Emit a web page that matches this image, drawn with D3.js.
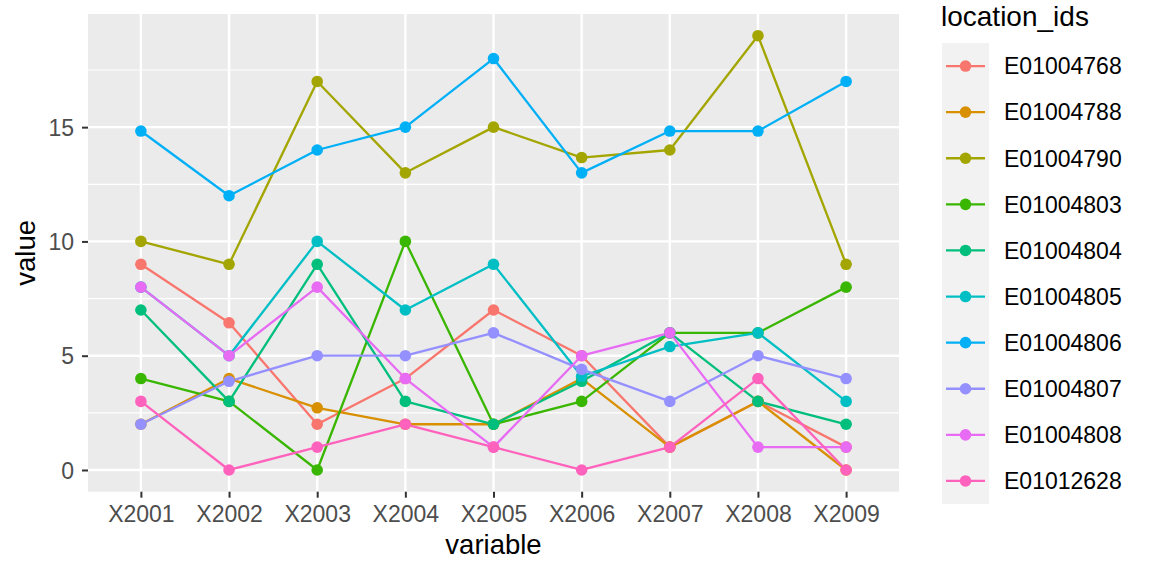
<!DOCTYPE html>
<html>
<head>
<meta charset="utf-8">
<script src="https://cdn.jsdelivr.net/npm/d3@7"></script>
<style>
  html, body { margin: 0; padding: 0; background: #fff; }
  svg { display: block; font-family: "Liberation Sans", Arial, sans-serif; }
</style>
</head>
<body>
<svg id="chart" width="1152" height="576"></svg>
<script>
const categories = ["X2001","X2002","X2003","X2004","X2005","X2006","X2007","X2008","X2009"];
const seriesNames = ["E01004768","E01004788","E01004790","E01004803","E01004804","E01004805","E01004806","E01004807","E01004808","E01012628"];
const colors = ["#F8766D","#D89000","#A3A500","#39B600","#00BF7D","#00BFC4","#00B0F6","#9590FF","#E76BF3","#FF62BC"];
const s_E01004768 = [9, 6.44, 2, 4, 7, 5, 1, 3, 1];
const s_E01004788 = [2, 4, 2.72, 2, 2, 4, 1, 3, 0];
const s_E01004790 = [10, 9, 17, 13, 15, 13.67, 14, 19, 9];
const s_E01004803 = [4, 3, 0, 10, 2, 3, 6, 6, 8];
const s_E01004804 = [7, 3, 9, 3, 2, 3.88, 6, 3, 2];
const s_E01004805 = [8, 5, 10, 7, 9, 4.1, 5.4, 6, 3];
const s_E01004806 = [14.83, 12, 14, 15, 18, 13, 14.83, 14.83, 17];
const s_E01004807 = [2, 3.88, 5, 5, 6, 4.4, 3, 5, 4];
const s_E01004808 = [8, 5, 8, 4, 1, 5, 6, 1, 1];
const s_E01012628 = [3, 0, 1, 2, 1, 0, 1, 4, 0];
const yTicks = [0, 5, 10, 15];
const yMinor = [2.5, 7.5, 12.5, 17.5];
const xTitle = "variable", yTitle = "value", legendTitle = "location_ids";

const seriesValues = [s_E01004768, s_E01004788, s_E01004790, s_E01004803, s_E01004804,
                      s_E01004805, s_E01004806, s_E01004807, s_E01004808, s_E01012628];
const series = seriesNames.map((n, i) => ({name: n, color: colors[i], values: seriesValues[i]}));

const svg = d3.select("#chart");
const P = {left: 88, right: 899, top: 14, bottom: 491.7};

// discrete x scale with ggplot 0.6 expansion
const xIdx = d3.scaleLinear().domain([0.4, categories.length + 0.6]).range([P.left, P.right]);
const x = c => xIdx(categories.indexOf(c) + 1);
const yMax = d3.max(seriesValues.flat()), yMin = d3.min(seriesValues.flat());
const pad = (yMax - yMin) * 0.05;
const y = d3.scaleLinear().domain([yMin - pad, yMax + pad]).range([P.bottom, P.top]);

// panel
svg.append("rect").attr("x", P.left).attr("y", P.top)
  .attr("width", P.right - P.left).attr("height", P.bottom - P.top).attr("fill", "#EBEBEB");

const grid = svg.append("g");
yMinor.forEach(v => grid.append("line").attr("x1", P.left).attr("x2", P.right)
  .attr("y1", y(v)).attr("y2", y(v)).attr("stroke", "#fff").attr("stroke-width", 1.2));
yTicks.forEach(v => grid.append("line").attr("x1", P.left).attr("x2", P.right)
  .attr("y1", y(v)).attr("y2", y(v)).attr("stroke", "#fff").attr("stroke-width", 2.4));
categories.forEach(c => grid.append("line").attr("y1", P.top).attr("y2", P.bottom)
  .attr("x1", x(c)).attr("x2", x(c)).attr("stroke", "#fff").attr("stroke-width", 2.4));

// axes
const yAxis = d3.axisLeft(y).tickValues(yTicks).tickSize(6).tickPadding(8).tickFormat(d3.format("d"));
const gy = svg.append("g").attr("transform", `translate(${P.left},0)`).call(yAxis);
const xPts = d3.scalePoint().domain(categories).range([x(categories[0]), x(categories[categories.length-1])]);
const xAxis = d3.axisBottom(xPts).tickSize(6).tickPadding(8);
const gx = svg.append("g").attr("transform", `translate(0,${P.bottom})`).call(xAxis);
[gx, gy].forEach(g => {
  g.select(".domain").remove();
  g.selectAll(".tick line").attr("stroke", "#333333").attr("stroke-width", 2);
  g.selectAll(".tick text").attr("fill", "#4D4D4D").style("font-size", "23px")
    .style("font-family", "Liberation Sans, Arial, sans-serif");
});
gy.selectAll(".tick text").attr("dy", "0.36em");
gx.selectAll(".tick text").attr("dy", "0.72em");

svg.append("text").attr("x", (P.left + P.right) / 2).attr("y", 554)
  .attr("text-anchor", "middle").style("font-size", "27.5px").attr("fill", "#000").text(xTitle);
svg.append("text").attr("transform", `translate(35,${(P.top + P.bottom) / 2}) rotate(-90)`)
  .attr("text-anchor", "middle").style("font-size", "27.5px").attr("fill", "#000").text(yTitle);

// lines and points
const line = d3.line().x((d, i) => x(categories[i])).y(d => y(d));
const gl = svg.append("g");
series.forEach(s => gl.append("path").attr("d", line(s.values)).attr("fill", "none")
  .attr("stroke", s.color).attr("stroke-width", 2.3).attr("stroke-linejoin", "round"));
const gp = svg.append("g");
series.forEach(s => s.values.forEach((v, i) => gp.append("circle")
  .attr("cx", x(categories[i])).attr("cy", y(v)).attr("r", 5.8).attr("fill", s.color)));

// legend
const L = {x: 942, top: 43, step: 46.1, w: 47};
const lg = svg.append("g");
lg.append("text").attr("x", 941).attr("y", 26).style("font-size", "28px").attr("fill", "#000").text(legendTitle);
lg.append("rect").attr("x", L.x).attr("y", L.top).attr("width", L.w)
  .attr("height", L.step * series.length).attr("fill", "#F2F2F2");
series.forEach((s, i) => {
  const cy = L.top + L.step * (i + 0.5);
  lg.append("line").attr("x1", L.x + 4).attr("x2", L.x + L.w - 4).attr("y1", cy).attr("y2", cy)
    .attr("stroke", s.color).attr("stroke-width", 2.3);
  lg.append("circle").attr("cx", L.x + L.w / 2).attr("cy", cy).attr("r", 5.8).attr("fill", s.color);
  lg.append("text").attr("x", 1004).attr("y", cy).attr("dy", "0.36em")
    .style("font-size", "23px").attr("fill", "#000").text(s.name);
});
</script>
</body>
</html>
